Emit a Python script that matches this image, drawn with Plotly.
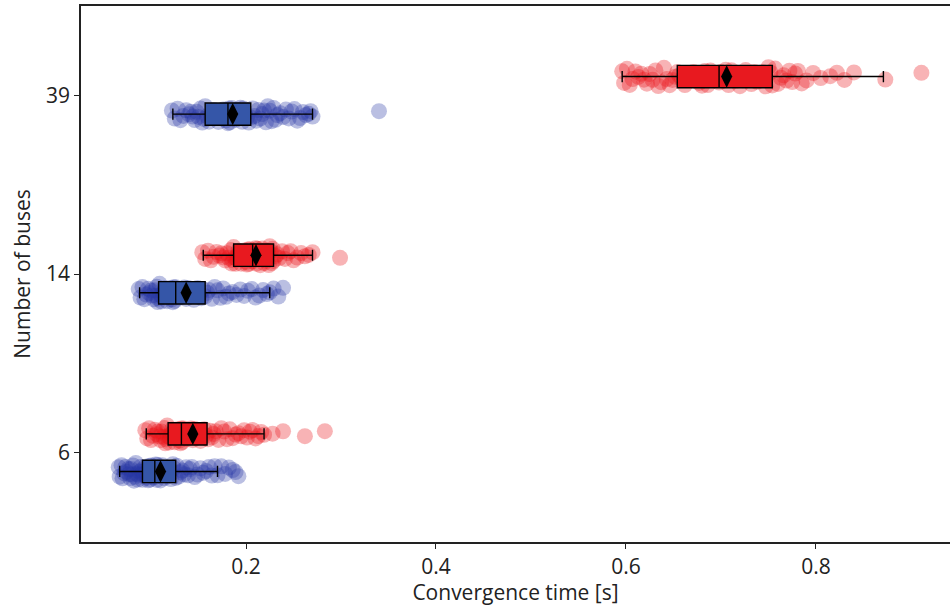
import plotly.graph_objects as go

# ---------------- data ----------------
categories = ["6", "14", "39"]
cat_pos = [0, 1, 2]

# blue series (lower row of each category)
blue_6 = [0.066, 0.067, 0.069, 0.070, 0.072, 0.073, 0.074, 0.076, 0.077, 0.078, 0.079, 0.080,
          0.081, 0.082, 0.083, 0.084, 0.085, 0.086, 0.087, 0.088, 0.089, 0.090, 0.091, 0.091,
          0.092, 0.093, 0.094, 0.095, 0.096, 0.097, 0.098, 0.099, 0.100, 0.101, 0.102, 0.103,
          0.104, 0.104, 0.105, 0.106, 0.107, 0.108, 0.109, 0.110, 0.111, 0.112, 0.113, 0.114,
          0.116, 0.117, 0.118, 0.120, 0.121, 0.123, 0.124, 0.126, 0.127, 0.129, 0.131, 0.133,
          0.135, 0.137, 0.139, 0.141, 0.143, 0.146, 0.149, 0.152, 0.155, 0.158, 0.161, 0.164,
          0.167, 0.170, 0.174, 0.178, 0.182, 0.186, 0.189, 0.192]
blue_14 = [0.087, 0.089, 0.091, 0.093, 0.095, 0.097, 0.098, 0.100, 0.101, 0.103, 0.104, 0.105,
           0.106, 0.107, 0.108, 0.109, 0.110, 0.111, 0.112, 0.113, 0.114, 0.115, 0.116, 0.117,
           0.118, 0.119, 0.120, 0.121, 0.122, 0.123, 0.124, 0.125, 0.126, 0.127, 0.128, 0.130,
           0.131, 0.133, 0.135, 0.137, 0.139, 0.141, 0.143, 0.145, 0.147, 0.149, 0.151, 0.153,
           0.155, 0.157, 0.159, 0.161, 0.164, 0.167, 0.170, 0.173, 0.176, 0.179, 0.182, 0.186,
           0.190, 0.194, 0.198, 0.202, 0.206, 0.210, 0.214, 0.218, 0.222, 0.225, 0.229, 0.234,
           0.239]
blue_39 = [0.122, 0.125, 0.128, 0.131, 0.134, 0.137, 0.140, 0.142, 0.144, 0.146, 0.148, 0.150,
           0.152, 0.154, 0.156, 0.157, 0.159, 0.161, 0.163, 0.165, 0.166, 0.168, 0.170, 0.171,
           0.173, 0.175, 0.176, 0.178, 0.179, 0.181, 0.182, 0.183, 0.185, 0.186, 0.188, 0.189,
           0.191, 0.192, 0.194, 0.196, 0.197, 0.199, 0.201, 0.203, 0.205, 0.207, 0.209, 0.211,
           0.213, 0.215, 0.217, 0.219, 0.221, 0.223, 0.225, 0.227, 0.229, 0.231, 0.233, 0.236,
           0.239, 0.242, 0.245, 0.248, 0.251, 0.254, 0.257, 0.260, 0.263, 0.266, 0.268, 0.270,
           0.340]

# red series (upper row of each category)
red_6 = [0.094, 0.096, 0.098, 0.100, 0.102, 0.104, 0.106, 0.107, 0.109, 0.110, 0.111, 0.113,
         0.114, 0.115, 0.116, 0.117, 0.118, 0.119, 0.120, 0.121, 0.122, 0.123, 0.124, 0.125,
         0.126, 0.127, 0.128, 0.129, 0.130, 0.131, 0.132, 0.133, 0.134, 0.135, 0.136, 0.138,
         0.139, 0.141, 0.142, 0.144, 0.146, 0.148, 0.150, 0.152, 0.154, 0.156, 0.158, 0.160,
         0.162, 0.164, 0.166, 0.168, 0.171, 0.174, 0.177, 0.180, 0.183, 0.186, 0.189, 0.192,
         0.195, 0.198, 0.201, 0.204, 0.207, 0.210, 0.213, 0.216, 0.219, 0.228, 0.239, 0.262,
         0.283]
red_14 = [0.154, 0.157, 0.160, 0.163, 0.166, 0.169, 0.172, 0.174, 0.176, 0.178, 0.180, 0.182,
          0.184, 0.185, 0.186, 0.187, 0.188, 0.189, 0.190, 0.191, 0.192, 0.193, 0.194, 0.195,
          0.196, 0.197, 0.198, 0.199, 0.200, 0.201, 0.202, 0.203, 0.204, 0.205, 0.206, 0.207,
          0.208, 0.209, 0.210, 0.211, 0.212, 0.213, 0.214, 0.215, 0.216, 0.217, 0.218, 0.219,
          0.220, 0.221, 0.222, 0.223, 0.224, 0.225, 0.226, 0.227, 0.228, 0.229, 0.231, 0.233,
          0.235, 0.238, 0.241, 0.244, 0.247, 0.250, 0.254, 0.258, 0.262, 0.266, 0.270, 0.299]
red_39 = [0.596, 0.598, 0.601, 0.604, 0.607, 0.610, 0.613, 0.616, 0.619, 0.622, 0.625, 0.628,
          0.631, 0.634, 0.637, 0.640, 0.643, 0.646, 0.649, 0.652, 0.654, 0.656, 0.659, 0.662,
          0.665, 0.668, 0.671, 0.674, 0.677, 0.680, 0.683, 0.686, 0.689, 0.692, 0.695, 0.698,
          0.700, 0.702, 0.705, 0.708, 0.711, 0.714, 0.717, 0.720, 0.723, 0.726, 0.729, 0.732,
          0.735, 0.738, 0.741, 0.744, 0.747, 0.750, 0.752, 0.754, 0.757, 0.760, 0.763, 0.766,
          0.769, 0.772, 0.775, 0.778, 0.781, 0.785, 0.790, 0.797, 0.805, 0.815, 0.822, 0.830,
          0.840, 0.873, 0.911]

# box statistics (lower whisker, q1, median, q3, upper whisker, mean)
blue_stats = {"lf": [0.067, 0.088, 0.123], "q1": [0.091, 0.108, 0.157],
              "med": [0.104, 0.126, 0.181], "q3": [0.126, 0.157, 0.205],
              "uf": [0.170, 0.225, 0.270], "mean": [0.110, 0.137, 0.186]}
red_stats = {"lf": [0.095, 0.155, 0.596], "q1": [0.118, 0.187, 0.654],
             "med": [0.132, 0.207, 0.698], "q3": [0.159, 0.229, 0.754],
             "uf": [0.219, 0.270, 0.871], "mean": [0.144, 0.2105, 0.706]}

blue_points = [blue_6, blue_14, blue_39]
red_points = [red_6, red_14, red_39]

# ---------------- style ----------------
OFFSET = 0.105
BOX_W = 0.125
BLUE_FILL = "#3556a8"
RED_FILL = "#e8191f"
BLUE_PT = "rgba(40,55,165,0.32)"
RED_PT = "rgba(232,20,25,0.32)"
FONT = "Open Sans"
FS = 21

fig = go.Figure()

def add_group(points, stats, sign, fill, ptcol):
    for i, vals in enumerate(points):
        pos = cat_pos[i] + sign * OFFSET
        # jittered sample points (box itself hidden)
        fig.add_trace(go.Box(
            x=vals, y=[pos] * len(vals), orientation="h",
            boxpoints="all", jitter=0.9, pointpos=0, width=BOX_W,
            fillcolor="rgba(0,0,0,0)", line=dict(width=0, color="rgba(0,0,0,0)"),
            marker=dict(size=16, color=ptcol, line=dict(width=0)),
            hoverinfo="skip", showlegend=False))
    ys = [p + sign * OFFSET for p in cat_pos]
    fig.add_trace(go.Box(
        y=ys, orientation="h",
        lowerfence=stats["lf"], q1=stats["q1"], median=stats["med"],
        q3=stats["q3"], upperfence=stats["uf"],
        boxpoints=False, width=BOX_W, whiskerwidth=0.5,
        fillcolor=fill, line=dict(color="black", width=1.4),
        showlegend=False))
    fig.add_trace(go.Scatter(
        x=stats["mean"], y=ys, mode="markers",
        marker=dict(symbol="diamond-tall", size=16, color="black"),
        showlegend=False))

add_group(blue_points, blue_stats, -1, BLUE_FILL, BLUE_PT)
add_group(red_points, red_stats, 1, RED_FILL, RED_PT)

fig.update_layout(
    width=950, height=606,
    margin=dict(l=81, r=0, t=6, b=64),
    paper_bgcolor="white", plot_bgcolor="white",
    boxmode="overlay",
    font=dict(family=FONT, size=FS, color="#222"),
    xaxis=dict(range=[0.0263, 0.9411], tickvals=[0.2, 0.4, 0.6, 0.8],
               ticktext=["0.2", "0.4", "0.6", "0.8"],
               showgrid=False, zeroline=False, showline=True, mirror=True,
               linecolor="#222", linewidth=1.5, ticks="outside", ticklen=5,
               tickcolor="#222", tickfont=dict(size=FS),
               title=dict(text="Convergence time [s]", standoff=1,
                          font=dict(size=FS))),
    yaxis=dict(range=[-0.5, 2.5], tickvals=cat_pos, ticktext=categories,
               showgrid=False, zeroline=False, showline=True,
               linecolor="#222", linewidth=1.5, ticks="outside", ticklen=5,
               tickcolor="#222", tickfont=dict(size=FS),
               title=dict(text="Number of buses", standoff=10,
                          font=dict(size=FS))),
)

fig.write_html("out.html")
